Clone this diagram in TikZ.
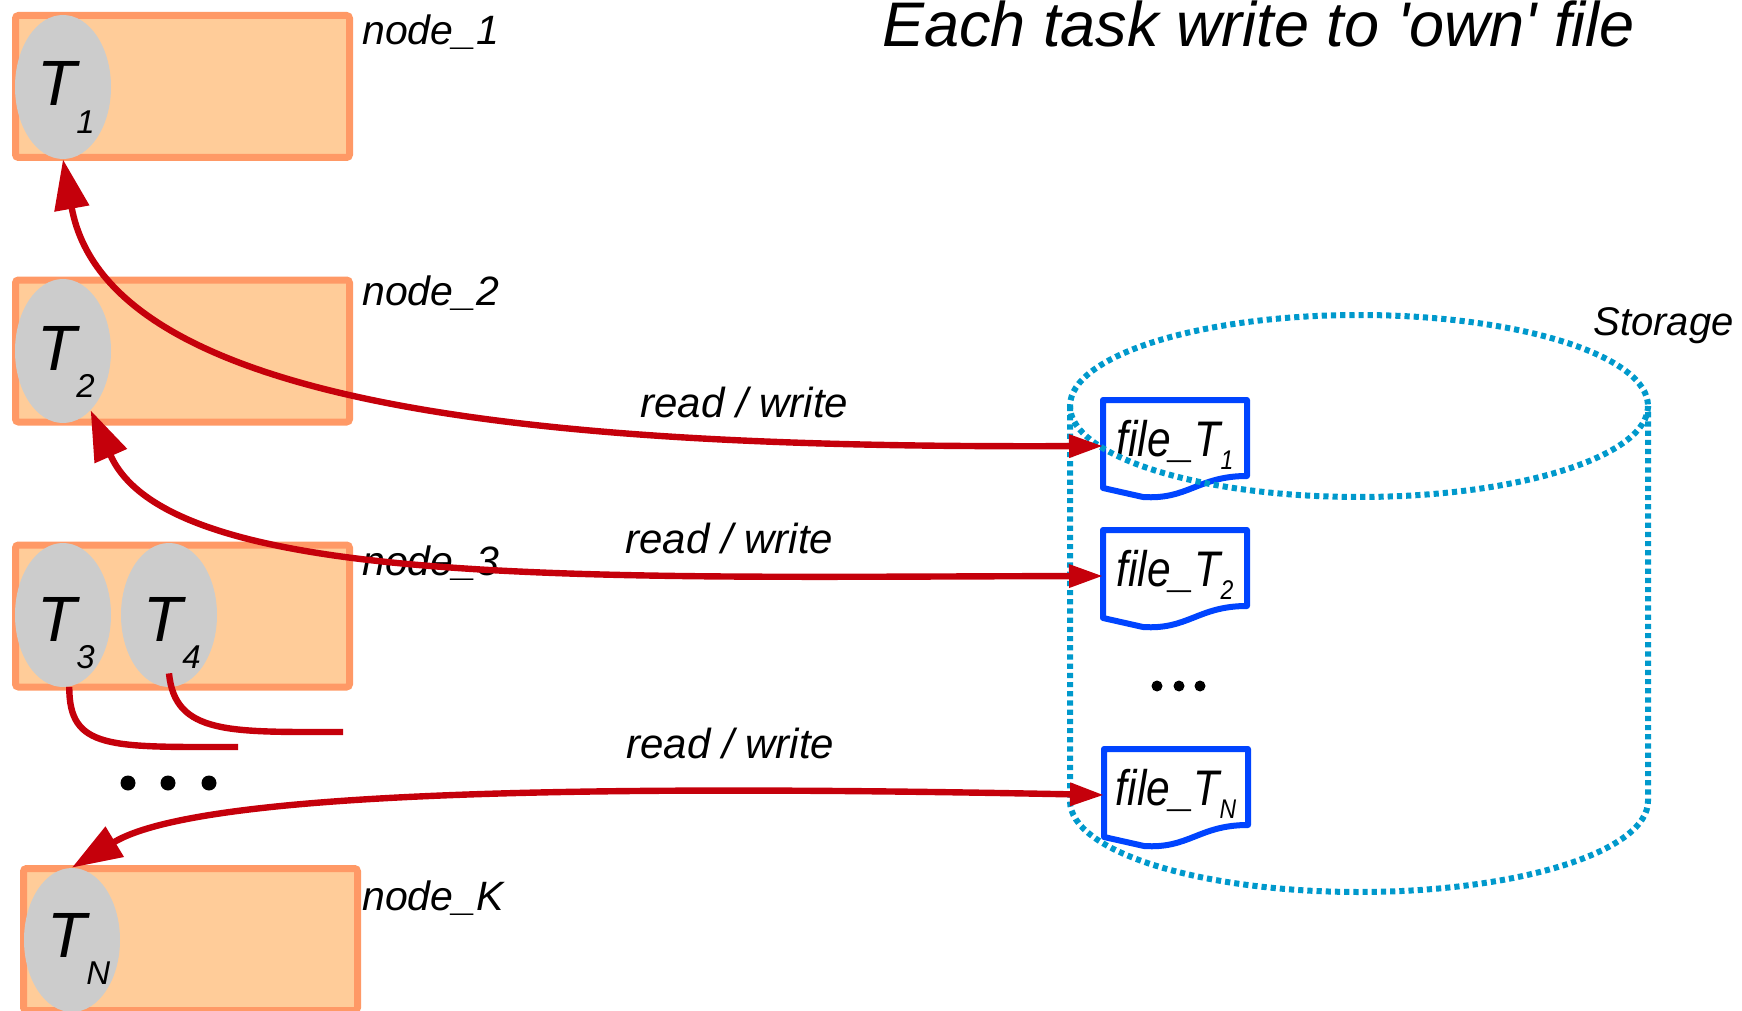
\documentclass[tikz,border=0pt]{standalone}
\usepackage{fontspec}
\setmainfont{Liberation Sans}
\newfontfamily\filefont[FakeStretch=0.85]{Liberation Sans}
\usetikzlibrary{arrows.meta,shapes.geometric,calc}
\definecolor{boxfill}{HTML}{FFCC99}
\definecolor{boxline}{HTML}{FF9966}
\definecolor{taskgray}{HTML}{CCCCCC}
\definecolor{rwred}{HTML}{C5000B}
\definecolor{fileblue}{HTML}{0044FF}
\definecolor{storecyan}{HTML}{0099CC}
\newcommand{\tsub}[1]{\raisebox{-13.5pt}{\fontsize{16.5}{18}\selectfont #1}}
\newcommand{\fsub}[1]{\raisebox{-6.5pt}{\fontsize{13.5}{15}\selectfont #1}}

\begin{document}
\begin{tikzpicture}[x=0.5pt, y=-0.5pt,
		hostbox/.style={draw=boxline, fill=boxfill, line width=3.5pt, rounded corners=1.5pt, minimum width=167pt, minimum height=71pt, inner sep=0pt},
		task/.style={ellipse, fill=taskgray, minimum width=48pt, minimum height=72pt, inner sep=0pt},
		tname/.style={anchor=base west, inner sep=0pt, font=\itshape\fontsize{32}{34}\selectfont},
		lbl/.style={anchor=base west, inner sep=0pt, font=\itshape\fontsize{20.5}{24}\selectfont},
		rw/.style={rwred, line width=3.2pt, {Triangle[length=25pt,width=17pt]}-{Triangle[length=17pt,width=11pt]}},
		link/.style={rwred, line width=3.2pt},
		store/.style={storecyan, line width=3pt, dash pattern=on 2.6pt off 2pt},
		filedoc/.pic={
			\draw[fileblue, fill=white, line width=3pt, line join=round] (0,0) -- (144,0) -- (144,76) .. controls (95,76) and (85,100) .. (40,97) -- (0,88) -- cycle;
			\coordinate (-w) at (0,46);
			\node[anchor=base, inner sep=0pt, font=\filefont\itshape\fontsize{25}{28}\selectfont] (-txt) at (72,56) {file\_T\fsub{#1}};
		}]
		\useasboundingbox (0,0) rectangle (1742,1011);
		
		\node[lbl, font=\itshape\fontsize{31.5}{34}\selectfont] (title) at (882,47) {Each task write to \textquotesingle own\textquotesingle{} file};
		
		\node[hostbox] (host1) at (182.5,86.5) {};
		\node[hostbox] (host2) at (182.5,351) {};
		\node[hostbox] (host3) at (182.5,616) {};
		\node[hostbox] (hostK) at (190.5,939.5) {};
		
		\node[lbl] (host1l) at (362,45) {node\_1};
		\node[lbl] (host2l) at (362,306) {node\_2};
		\node[lbl] (host3l) at (362,575) {node\_3};
		\node[lbl] (hostKl) at (362,910) {node\_K};
		
		\node[task] (T1) at (63,87) {};
		\node[task] (T2) at (63,351) {};
		\node[task] (T3) at (63,615) {};
		\node[task] (T4) at (169,615) {};
		\node[task] (TN) at (72,940) {};
		
		\node[tname] (T1l) at ($(T1)+(-26,19)$) {T\tsub{1}};
		\node[tname] (T2l) at ($(T2)+(-26,19)$) {T\tsub{2}};
		\node[tname] (T3l) at ($(T3)+(-26,26)$) {T\tsub{3}};
		\node[tname] (T4l) at ($(T4)+(-26,26)$) {T\tsub{4}};
		\node[tname] (TNl) at ($(TN)+(-25,17)$) {T\tsub{N}};
		
		\fill (128,783) circle[radius=7.5];
		\fill (168,783) circle[radius=7.5];
		\fill (209,783) circle[radius=7.5];
		
		\pic (f1) at (1103,400) {filedoc=1};
		\pic (f2) at (1103,530) {filedoc=2};
		\pic (fN) at (1104,749) {filedoc=N};
		
		\fill (1157,686) circle[radius=5.5];
		\fill (1179,686) circle[radius=5.5];
		\fill (1200,686) circle[radius=5.5];
		
		\draw[store] (1359,406) ellipse[x radius=289, y radius=91];
		\draw[store] (1070,406) -- (1070,801) arc[start angle=180, end angle=0, x radius=289, y radius=91] -- (1648,406);
		\node[lbl, font=\itshape\fontsize{20}{24}\selectfont] (storel) at (1593,335) {Storage};
		
		\draw[rw] (T1.south) .. controls (110,420) and (600,448) .. (f1-w);
		\draw[rw] (T2.-65) .. controls (170,590) and (600,577) .. (f2-w);
		\draw[rw] (TN.north) .. controls (200,790) and (600,785) .. (fN-w);
		
		\node[lbl, font=\itshape\fontsize{21}{24}\selectfont] (rw1) at (640,417) {read / write};
		\node[lbl, font=\itshape\fontsize{21}{24}\selectfont] (rw2) at (625,553) {read / write};
		\node[lbl, font=\itshape\fontsize{21}{24}\selectfont] (rw3) at (626,758) {read / write};
		
		\coordinate (T3e) at (238,747);
		\coordinate (T4e) at (343,732);
		\draw[link] (T3.-85) .. controls (69,750) and (110,747) .. (T3e);
		\draw[link] ([yshift=7pt]T4.south) .. controls (175,735) and (230,732) .. (T4e);
\end{tikzpicture}
\end{document}
